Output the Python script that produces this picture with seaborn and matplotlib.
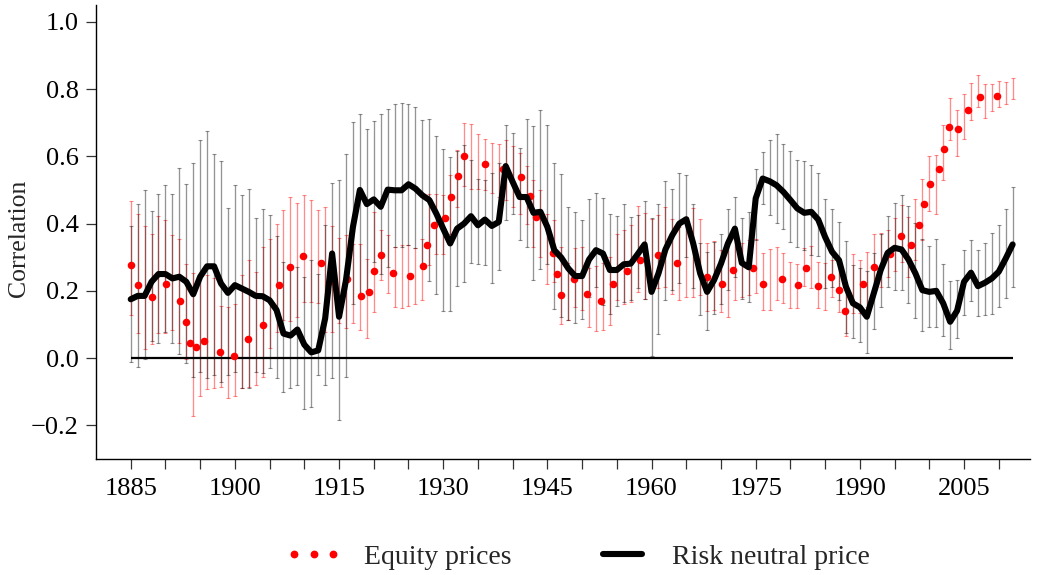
import matplotlib
matplotlib.use("Agg")
import matplotlib.pyplot as plt
import numpy as np
import seaborn as sns
from matplotlib.lines import Line2D

# annual grid 1885-2012
years = list(range(1885, 2013))

risk_neutral = [
    0.175, 0.185, 0.185, 0.227, 0.25, 0.25, 0.237, 0.242, 0.227, 0.19,
    0.242, 0.273, 0.273, 0.222, 0.194, 0.217, 0.207, 0.197, 0.185, 0.184,
    0.172, 0.143, 0.073, 0.067, 0.085, 0.04, 0.017, 0.023, 0.118, 0.311,
    0.123, 0.232, 0.39, 0.50, 0.458, 0.472, 0.45, 0.501, 0.499, 0.499,
    0.517, 0.504, 0.484, 0.47, 0.43, 0.385, 0.341, 0.385, 0.40, 0.422,
    0.395, 0.412, 0.393, 0.405, 0.571, 0.524, 0.479, 0.479, 0.432, 0.435,
    0.39, 0.321, 0.299, 0.267, 0.244, 0.244, 0.293, 0.321, 0.311, 0.262,
    0.262, 0.279, 0.281, 0.309, 0.338, 0.197, 0.252, 0.323, 0.366, 0.40,
    0.413, 0.341, 0.252, 0.197, 0.232, 0.281, 0.341, 0.385, 0.283, 0.27,
    0.475, 0.534, 0.526, 0.514, 0.494, 0.47, 0.445, 0.432, 0.435, 0.412,
    0.36, 0.316, 0.291, 0.212, 0.163, 0.151, 0.123, 0.192, 0.262, 0.313,
    0.328, 0.323, 0.293, 0.252, 0.202, 0.197, 0.2, 0.163, 0.108, 0.141,
    0.227, 0.254, 0.214, 0.224, 0.237, 0.257, 0.296, 0.338,
]

risk_hi = [
    0.394, 0.458, 0.501, 0.437, 0.489, 0.515, 0.489, 0.564, 0.519, 0.579,
    0.648, 0.675, 0.606, 0.586, 0.445, 0.516, 0.484, 0.504, 0.418, 0.442,
    0.425, 0.363, 0.286, 0.27, 0.27, 0.242, 0.293, 0.25, 0.395, 0.521,
    0.529, 0.608, 0.702, 0.725, 0.682, 0.704, 0.727, 0.740, 0.755, 0.760,
    0.755, 0.747, 0.709, 0.712, 0.660, 0.623, 0.598, 0.616, 0.633, 0.590,
    0.534, 0.529, 0.55, 0.58, 0.694, 0.668, 0.626, 0.712, 0.689, 0.737,
    0.692, 0.579, 0.547, 0.448, 0.435, 0.410, 0.474, 0.491, 0.477, 0.430,
    0.422, 0.459, 0.420, 0.425, 0.466, 0.417, 0.457, 0.527, 0.504, 0.549,
    0.544, 0.457, 0.343, 0.316, 0.346, 0.370, 0.444, 0.479, 0.418, 0.435,
    0.561, 0.613, 0.650, 0.665, 0.638, 0.616, 0.588, 0.586, 0.573, 0.551,
    0.474, 0.442, 0.405, 0.349, 0.276, 0.269, 0.259, 0.313, 0.37, 0.424,
    0.46, 0.486, 0.451, 0.402, 0.353, 0.333, 0.353, 0.281, 0.229, 0.233,
    0.321, 0.350, 0.322, 0.343, 0.372, 0.397, 0.442, 0.509,
]

risk_lo = [
    -0.011, -0.026, -0.003, 0.051, 0.045, 0.077, 0.045, 0.012, -0.016, -0.057,
    -0.04, -0.06, -0.05, -0.07, -0.05, -0.04, -0.09, -0.09, -0.04, -0.045,
    -0.03, -0.06, -0.10, -0.09, -0.08, -0.15, -0.145, -0.05, -0.08, -0.06,
    -0.184, -0.055, 0.16, 0.182, 0.20, 0.286, 0.25, 0.27, 0.331, 0.331,
    0.336, 0.326, 0.276, 0.230, 0.192, 0.141, 0.141, 0.214, 0.227, 0.283,
    0.281, 0.276, 0.222, 0.261, 0.410, 0.430, 0.35, 0.331, 0.232, 0.266,
    0.281, 0.145, 0.123, 0.113, 0.103, 0.115, 0.182, 0.21, 0.157, 0.132,
    0.154, 0.167, 0.174, 0.207, 0.177, 0.006, 0.071, 0.172, 0.204, 0.224,
    0.301, 0.207, 0.128, 0.085, 0.130, 0.162, 0.204, 0.242, 0.177, 0.167,
    0.35, 0.459, 0.427, 0.402, 0.385, 0.346, 0.331, 0.321, 0.306, 0.303,
    0.207, 0.212, 0.172, 0.075, 0.061, 0.048, 0.016, 0.088, 0.153, 0.212,
    0.202, 0.202, 0.164, 0.12, 0.080, 0.093, 0.093, 0.066, 0.026, 0.061,
    0.128, 0.170, 0.125, 0.128, 0.131, 0.153, 0.180, 0.210,
]

equity_hi = [
    0.468, 0.428, 0.392, 0.37, 0.424, 0.41, 0.366, 0.353, 0.281, 0.252,
    0.25, 0.247, 0.237, 0.155, 0.152, 0.162, 0.247, 0.293, 0.256, 0.331,
    0.353, 0.398, 0.44, 0.479, 0.462, 0.484, 0.469, 0.44, 0.45, 0.392,
    0.356, 0.366, 0.339, 0.339, 0.296, 0.433, 0.382, 0.365, 0.331, 0.336,
    0.336, 0.326, 0.355, 0.489, 0.489, 0.484, 0.544, 0.618, 0.699, 0.697,
    0.666, 0.653, 0.641, 0.638, 0.648, 0.63, 0.61, 0.57, 0.53, 0.50,
    0.43, 0.41, 0.33, 0.282, 0.326, 0.331, 0.267, 0.273, 0.282, 0.301,
    0.370, 0.382, 0.397, 0.451, 0.431, 0.415, 0.425, 0.450, 0.415, 0.390,
    0.420, 0.445, 0.415, 0.343, 0.348, 0.321, 0.346, 0.353, 0.343, 0.351,
    0.353, 0.312, 0.323, 0.331, 0.313, 0.286, 0.281, 0.328, 0.333, 0.286,
    0.283, 0.293, 0.281, 0.202, 0.311, 0.291, 0.316, 0.369, 0.373, 0.380,
    0.418, 0.455, 0.420, 0.474, 0.534, 0.601, 0.603, 0.692, 0.772, 0.737,
    0.786, 0.818, 0.843, 0.816, 0.814, 0.824, 0.821, 0.834,
]

equity_lo = [
    0.128, 0.076, 0.027, 0.042, 0.075, 0.075, 0.083, 0.045, -0.004, -0.172,
    -0.113, -0.093, -0.09, -0.087, -0.12, -0.113, -0.09, -0.087, -0.08, -0.055,
    0.029, 0.078, 0.113, 0.111, 0.123, 0.167, 0.167, 0.163, 0.078, 0.078,
    0.103, 0.09, 0.103, 0.083, 0.06, 0.138, 0.232, 0.194, 0.153, 0.150,
    0.154, 0.162, 0.172, 0.276, 0.311, 0.311, 0.370, 0.450, 0.511, 0.504,
    0.504, 0.50, 0.49, 0.48, 0.47, 0.45, 0.43, 0.40, 0.33, 0.30,
    0.22, 0.227, 0.101, 0.113, 0.151, 0.143, 0.093, 0.081, 0.083, 0.098,
    0.174, 0.160, 0.167, 0.197, 0.177, 0.199, 0.207, 0.210, 0.192, 0.172,
    0.182, 0.182, 0.187, 0.141, 0.144, 0.137, 0.122, 0.172, 0.182, 0.187,
    0.194, 0.142, 0.144, 0.172, 0.164, 0.148, 0.148, 0.214, 0.207, 0.148,
    0.143, 0.182, 0.138, 0.065, 0.133, 0.133, 0.153, 0.197, 0.212, 0.241,
    0.259, 0.286, 0.241, 0.291, 0.350, 0.438, 0.430, 0.529, 0.650, 0.601,
    0.652, 0.709, 0.747, 0.715, 0.734, 0.747, 0.757, 0.769,
]

# equity point estimates (their own dates)
equity_years = [
    1885.0, 1886.05, 1888.0, 1890.1, 1892.06, 1893.0, 1893.6, 1894.4, 1895.5,
    1897.9, 1899.9, 1901.85, 1904.05, 1906.3, 1907.9, 1909.8, 1912.45, 1913.9,
    1916.2, 1918.2, 1919.3, 1920.1, 1921.1, 1922.7, 1925.2, 1927.1, 1927.7,
    1928.7, 1930.3, 1931.1, 1932.1, 1933.05, 1936.0, 1938.6, 1941.2, 1942.5,
    1943.3, 1945.8, 1946.4, 1947.0, 1948.9, 1950.7, 1952.7, 1954.5, 1956.4,
    1958.4, 1961.0, 1963.7, 1968.0, 1970.2, 1971.7, 1974.6, 1976.05, 1978.8,
    1981.1, 1982.3, 1983.9, 1985.8, 1987.0, 1987.9, 1990.4, 1992.1, 1994.4,
    1995.9, 1997.4, 1998.5, 1999.3, 2000.1, 2001.45, 2002.1, 2002.8, 2004.2,
    2005.6, 2007.3, 2009.7,
]
equity_vals = [
    0.278, 0.217, 0.181, 0.221, 0.17, 0.108, 0.045, 0.034, 0.05,
    0.017, 0.006, 0.057, 0.098, 0.218, 0.272, 0.303, 0.283, 0.23,
    0.234, 0.185, 0.196, 0.259, 0.308, 0.252, 0.243, 0.273, 0.336,
    0.397, 0.418, 0.48, 0.542, 0.60, 0.577, 0.561, 0.539, 0.481,
    0.42, 0.313, 0.25, 0.187, 0.234, 0.192, 0.171, 0.221, 0.258,
    0.293, 0.308, 0.284, 0.242, 0.221, 0.262, 0.267, 0.221, 0.235,
    0.218, 0.268, 0.215, 0.24, 0.202, 0.14, 0.219, 0.27, 0.311,
    0.363, 0.336, 0.395, 0.458, 0.517, 0.561, 0.623, 0.686, 0.681,
    0.739, 0.777, 0.78,
]

x_major = list(range(1885, 2011, 5))
x_labelled = list(range(1885, 2011, 15))
y_ticks = [-0.2, 0.0, 0.2, 0.4, 0.6, 0.8, 1.0]


def _draw_bars(ax, lo, hi, color, z):
    lo = np.asarray(lo)
    hi = np.asarray(hi)
    mid = (lo + hi) / 2
    ax.errorbar(
        years, mid, yerr=[mid - lo, hi - mid], fmt="none",
        ecolor=color, elinewidth=0.95, capsize=1.4, capthick=0.8, zorder=z,
    )


sns.set_style("ticks")
plt.rcParams["font.family"] = ["Liberation Serif", "DejaVu Serif"]

fig = plt.figure(figsize=(10.41, 5.75), dpi=100)
ax = fig.add_axes([96 / 1041, 1 - 459 / 575, (1030 - 96) / 1041, (459 - 5) / 575])

_draw_bars(ax, equity_lo, equity_hi, (1.0, 0.0, 0.0, 0.45), 2)
_draw_bars(ax, risk_lo, risk_hi, (0.0, 0.0, 0.0, 0.42), 3)
ax.hlines(0, years[0], years[-1], color="black", lw=1.6, zorder=4)

sns.scatterplot(x=equity_years, y=equity_vals, ax=ax, color="#ff0000", s=30,
                linewidth=0, zorder=5, legend=False)
sns.lineplot(x=years, y=risk_neutral, ax=ax, color="black", lw=4.4,
             solid_joinstyle="round", zorder=6, legend=False)

ax.set_xlim(1880, 2014.5)
ax.set_ylim(-0.30, 1.05)
ax.set_xticks(x_major)
ax.set_xticklabels([str(y) if y in x_labelled else "" for y in x_major])
ax.set_yticks(y_ticks)
ax.set_yticklabels([f"{v:.1f}".replace("-", "\u2212") for v in y_ticks])
ax.tick_params(axis="both", direction="out", length=7, width=0.9, color="#333333",
               labelsize=19, labelcolor="black")
ax.tick_params(axis="y", pad=5.5)
ax.tick_params(axis="x", pad=7)
ax.set_xlabel("")
ax.set_ylabel("Correlation", fontsize=18.5)
ax.yaxis.set_label_coords(-0.0707, 0.487)
for side in ["top", "right"]:
    ax.spines[side].set_visible(False)
for side in ["left", "bottom"]:
    ax.spines[side].set_linewidth(1.0)
    ax.spines[side].set_color("black")

handles = [
    Line2D([], [], color="#ff0000", marker="o", ls="none", markersize=4.6),
    Line2D([], [], color="black", lw=4.4),
]
fig.legend(handles, ["Equity prices", "Risk neutral price"], loc="center",
           bbox_to_anchor=(578 / 1041, 1 - 557 / 575), ncol=2, frameon=False,
           numpoints=3, handlelength=2.0, handletextpad=0.8, columnspacing=3.0,
           fontsize=20)

fig.savefig("out.png", dpi=100)
